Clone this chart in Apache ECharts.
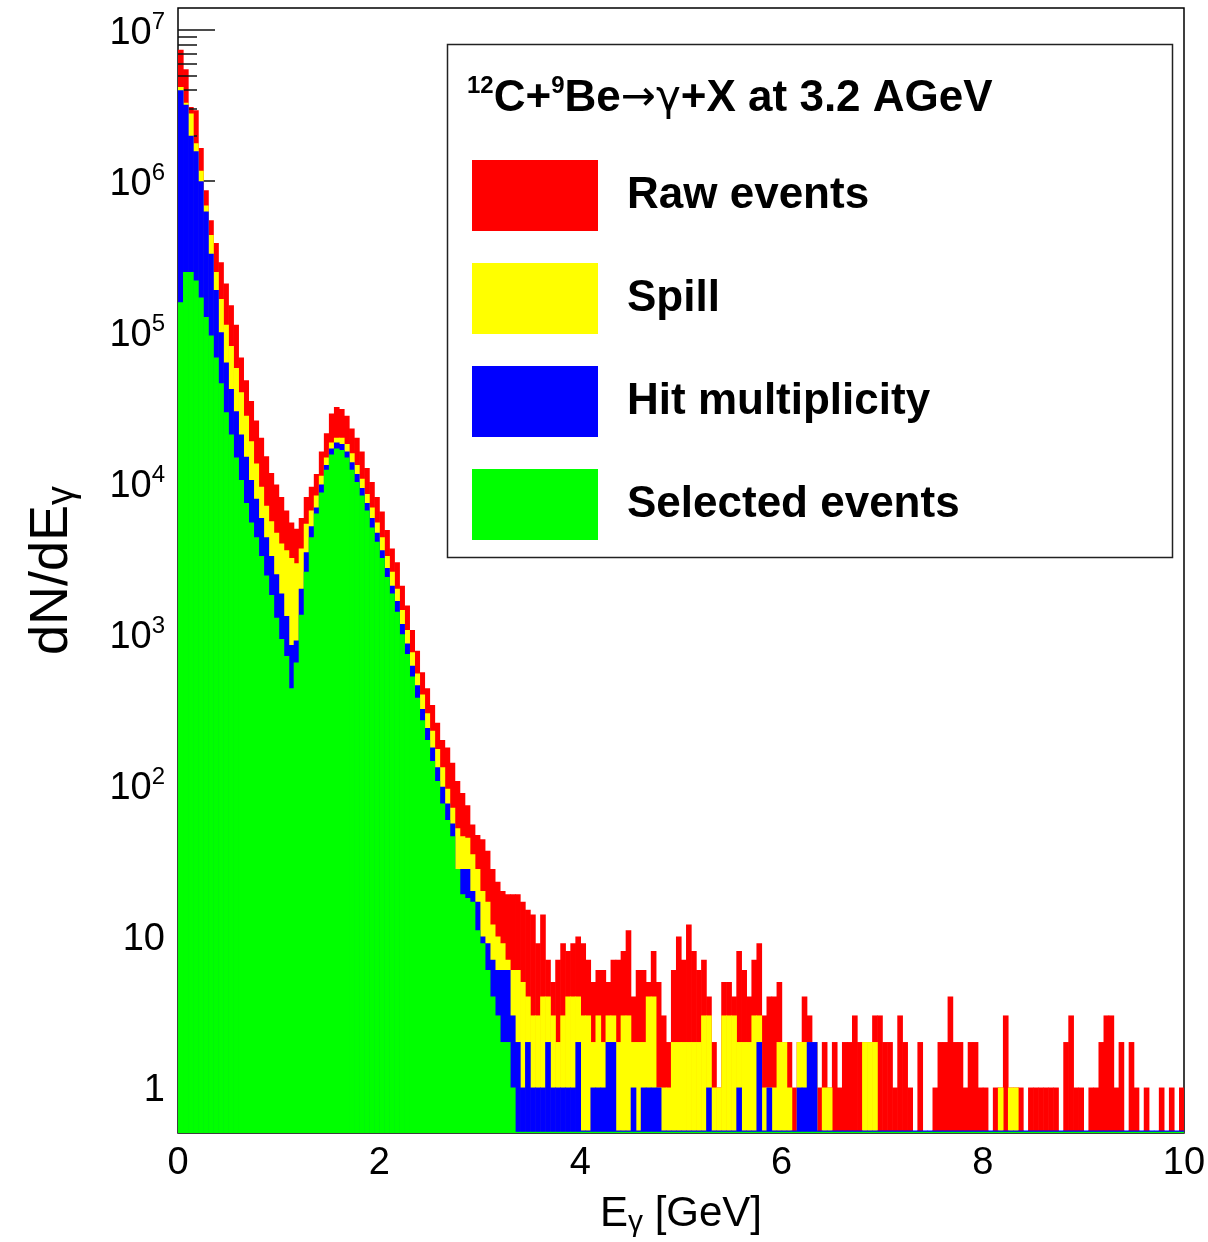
<!DOCTYPE html>
<html>
<head>
<meta charset="utf-8">
<script src="https://cdn.jsdelivr.net/npm/echarts@6/dist/echarts.min.js"></script>
<style>
html,body{margin:0;padding:0;background:#fff}
#chart{width:1208px;height:1242px}
</style>
</head>
<body>
<div id="chart"></div>
<script>
// ---------------- data (0.05 GeV bins, 0 - 10 GeV) ----------------
const BIN_WIDTH = 0.05;
const Y_MIN = 0.5;
const Y_MAX = 1.4e7;

const seriesNames = ['Raw events', 'Spill', 'Hit multiplicity', 'Selected events'];
const seriesColors = ['#ff0000', '#ffff00', '#0000ff', '#00ff00'];

const rawEvents = [
  7.4e6, 5.5e6, 3.1e6, 2.95e6, 1.66e6, 8.7e5, 5.5e5, 3.9e5, 2.9e5, 2.1e5,
  1.51e5, 1.12e5, 6.8e4, 4.8e4, 3.5e4, 2.6e4, 2.0e4, 1.51e4, 1.17e4, 9800,
  8100, 6600, 5500, 5000, 5900, 8100, 9500, 11500, 16200, 21400,
  29000, 32000, 31000, 28000, 23000, 20000, 16200, 12600, 10200, 8100,
  6500, 4900, 3700, 3000, 2100, 1550, 1070, 780, 560, 440,
  340, 260, 200, 178, 141, 107, 89, 74, 55, 47,
  44, 37, 28, 23, 20, 19, 19, 19, 17, 15,
  14, 9, 14, 7, 5, 7, 9, 8, 9, 10,
  9, 7, 5, 6, 6, 5, 7, 7, 8, 11,
  4, 6, 6, 5, 8, 5, 3, 2, 6, 10,
  7, 12, 8, 6, 7, 4, 2, 1, 5, 5,
  4, 8, 6, 4, 7, 9, 3, 4, 4, 5,
  2, 2, 1, 2, 4, 3, 2, 1, 2, 1,
  2, 1, 2, 2, 3, 2, 2, 2, 3, 3,
  2, 2, 1, 3, 2, 1, 0, 2, 0, 0,
  1, 2, 2, 4, 2, 2, 1, 2, 2, 1,
  1, 0, 1, 1, 3, 1, 1, 1, 0, 1,
  1, 1, 1, 1, 1, 0, 2, 3, 1, 1,
  0, 1, 1, 2, 3, 3, 1, 2, 0, 2,
  1, 0, 1, 0, 0, 1, 0, 1, 0, 1
];

const spill = [
  4.2e6, 3.3e6, 2.8e6, 1.78e6, 1.17e6, 6.9e5, 4.4e5, 2.5e5, 1.66e5, 1.12e5,
  8.1e4, 5.8e4, 4.0e4, 2.8e4, 1.9e4, 1.35e4, 9500, 7100, 5600, 4700,
  4000, 3600, 3200, 2950, 3700, 5400, 6600, 8300, 11200, 14800,
  18600, 20000, 20000, 18200, 15800, 13200, 10700, 8500, 6900, 5500,
  4400, 3300, 2600, 2000, 1450, 1070, 760, 550, 400, 300,
  230, 174, 132, 95, 71, 52, 46, 45, 35, 28,
  20, 17, 12, 10, 9, 7, 6, 6, 5, 4,
  3, 3, 4, 4, 3, 2, 3, 4, 4, 4,
  3, 3, 2, 3, 2, 3, 3, 2, 3, 3,
  2, 2, 2, 4, 4, 1, 1, 1, 2, 2,
  2, 2, 2, 2, 3, 3, 1, 1, 3, 3,
  3, 2, 2, 2, 3, 3, 1, 1, 1, 2,
  2, 1, 0, 2, 2, 2, 2, 0, 1, 1,
  0, 0, 0, 0, 0, 0, 2, 2, 2, 0,
  0, 0, 0, 0, 0, 0, 0, 0, 0, 0,
  0, 0, 0, 0, 0, 0, 0, 0, 0, 0,
  0, 0, 0, 1, 0, 1, 1, 0, 0, 0,
  0, 0, 0, 0, 0, 0, 0, 0, 0, 0,
  0, 0, 0, 0, 0, 0, 0, 0, 0, 0,
  0, 0, 0, 0, 0, 0, 0, 0, 0, 0
];

const hitMultiplicity = [
  4.0e6, 3.2e6, 2.0e6, 1.58e6, 1.0e6, 6.3e5, 3.3e5, 1.9e5, 1.0e5, 6.3e4,
  4.2e4, 3.0e4, 2.1e4, 1.5e4, 1.05e4, 7900, 5900, 4400, 3300, 2500,
  1860, 1320, 850, 910, 2000, 3500, 5200, 6900, 9800, 13200,
  17000, 18600, 18200, 16200, 13800, 11500, 9300, 7400, 5900, 4700,
  3600, 2750, 2100, 1660, 1170, 870, 620, 460, 320, 240,
  178, 132, 98, 76, 56, 28, 28, 28, 20, 17,
  10, 9, 7, 6, 6, 6, 3, 2, 1, 2,
  1, 1, 1, 2, 1, 1, 1, 1, 1, 2,
  0, 0, 1, 1, 1, 2, 2, 0, 0, 0,
  1, 0, 1, 1, 1, 1, 0, 0, 0, 0,
  0, 0, 0, 0, 0, 1, 0, 0, 0, 0,
  0, 1, 0, 0, 0, 2, 0, 1, 0, 0,
  0, 0, 0, 1, 1, 2, 2, 0, 0, 0,
  0, 0, 0, 0, 0, 0, 0, 0, 0, 0,
  0, 0, 0, 0, 0, 0, 0, 0, 0, 0,
  0, 0, 0, 0, 0, 0, 0, 0, 0, 0,
  0, 0, 0, 0, 0, 0, 0, 0, 0, 0,
  0, 0, 0, 0, 0, 0, 0, 0, 0, 0,
  0, 0, 0, 0, 0, 0, 0, 0, 0, 0,
  0, 0, 0, 0, 0, 0, 0, 0, 0, 0
];

const selectedEvents = [
  1.58e5, 2.5e5, 2.5e5, 2.2e5, 1.7e5, 1.26e5, 9.5e4, 6.8e4, 4.6e4, 2.95e4,
  2.1e4, 1.48e4, 1.05e4, 7400, 5500, 4400, 3300, 2450, 1820, 1290,
  930, 720, 440, 650, 1350, 2600, 4400, 6300, 8700, 12300,
  15500, 17000, 16600, 14800, 12300, 10200, 8300, 6600, 5100, 4100,
  3200, 2400, 1860, 1410, 1000, 740, 525, 380, 270, 200,
  145, 107, 76, 59, 46, 28, 19, 18, 17, 11,
  9, 6, 4, 3, 2, 2, 1, 0, 0, 0,
  0, 0, 0, 0, 0, 0, 0, 0, 0, 0,
  0, 0, 0, 0, 0, 0, 0, 0, 0, 0,
  0, 0, 0, 0, 0, 0, 0, 0, 0, 0,
  0, 0, 0, 0, 0, 0, 0, 0, 0, 0,
  0, 0, 0, 0, 0, 0, 0, 0, 0, 0,
  0, 0, 0, 0, 0, 0, 0, 0, 0, 0,
  0, 0, 0, 0, 0, 0, 0, 0, 0, 0,
  0, 0, 0, 0, 0, 0, 0, 0, 0, 0,
  0, 0, 0, 0, 0, 0, 0, 0, 0, 0,
  0, 0, 0, 0, 0, 0, 0, 0, 0, 0,
  0, 0, 0, 0, 0, 0, 0, 0, 0, 0,
  0, 0, 0, 0, 0, 0, 0, 0, 0, 0,
  0, 0, 0, 0, 0, 0, 0, 0, 0, 0
];

const xTickValues = [0, 2, 4, 6, 8, 10];
const yMajorTicks = [1, 10, 100, 1000, 10000, 100000, 1000000, 10000000];
const yMinorTicks = [
  2, 3, 4, 5, 6, 7, 8, 9,
  20, 30, 40, 50, 60, 70, 80, 90,
  200, 300, 400, 500, 600, 700, 800, 900,
  2000, 3000, 4000, 5000, 6000, 7000, 8000, 9000,
  20000, 30000, 40000, 50000, 60000, 70000, 80000, 90000,
  200000, 300000, 400000, 500000, 600000, 700000, 800000, 900000,
  2000000, 3000000, 4000000, 5000000, 6000000, 7000000, 8000000, 9000000
];

// ---------------- chart ----------------
const FONT = '"Liberation Sans", Arial, Helvetica, sans-serif';

function histSeries(name, values, color, z, baseThickness) {
  return {
    name: name,
    type: 'custom',
    coordinateSystem: 'cartesian2d',
    xAxisIndex: 0,
    yAxisIndex: 0,
    z: z,
    clip: true,
    itemStyle: { color: color },
    encode: { x: [0, 1], y: 2 },
    data: values.map((v, i) => [i * BIN_WIDTH, (i + 1) * BIN_WIDTH, v]),
    renderItem: function (params, api) {
      const x0 = api.value(0), x1 = api.value(1), v = api.value(2);
      const base = api.coord([x0, Y_MIN]);
      const right = api.coord([x1, Y_MIN]);
      const w = right[0] - base[0] + 0.6;
      if (v > 0) {
        const top = api.coord([x0, v]);
        return {
          type: 'rect',
          shape: { x: base[0], y: top[1], width: w, height: base[1] - top[1] },
          style: { fill: color }
        };
      }
      if (baseThickness > 0) {
        return {
          type: 'rect',
          shape: { x: base[0], y: base[1] - baseThickness, width: w, height: baseThickness },
          style: { fill: color }
        };
      }
      return null;
    }
  };
}

function yLabel(v) {
  const e = Math.round(Math.log10(v));
  if (Math.abs(v - Math.pow(10, e)) > 1e-6 * Math.pow(10, e)) return '';
  if (e === 0) return '{b|1}';
  if (e === 1) return '{b|10}';
  return '{b|10}{s|' + e + '}';
}

const chart = echarts.init(document.getElementById('chart'), null, { renderer: 'canvas' });

const option = {
  animation: false,
  backgroundColor: '#ffffff',
  textStyle: { fontFamily: FONT },
  grid: {
    left: 178, right: 24, top: 8, bottom: 109,
    show: true, borderColor: '#000', borderWidth: 1.5, backgroundColor: 'transparent',
    containLabel: false, outerBoundsMode: 'none'
  },
  title: {
    text: '{s|12}{b|C+}{s|9}{b|Be}{a|→γ}{b|+X at 3.2 AGeV}',
    left: 462, top: 69,
    textStyle: {
      rich: {
        b: { fontSize: 44, fontWeight: 'bold', color: '#000', lineHeight: 50, fontFamily: FONT },
        a: { fontSize: 42, fontWeight: 'normal', color: '#000', lineHeight: 50, fontFamily: '"DejaVu Sans", ' + FONT },
        s: { fontSize: 24, fontWeight: 'bold', color: '#000', lineHeight: 20, verticalAlign: 'top', fontFamily: FONT }
      }
    }
  },
  legend: {
    orient: 'vertical',
    left: 472, top: 160,
    padding: 0,
    itemWidth: 126, itemHeight: 71, itemGap: 32,
    icon: 'rect',
    selectedMode: false,
    data: seriesNames,
    textStyle: { fontSize: 44, fontWeight: 'bold', color: '#000', fontFamily: FONT, padding: [0, 0, 0, 24] }
  },
  graphic: [{
    type: 'rect',
    left: 445, top: 42,
    shape: { width: 725, height: 513 },
    style: { fill: 'none', stroke: '#222', lineWidth: 1.5 },
    z: 1
  }],
  xAxis: {
    type: 'value', min: 0, max: 10, interval: 2,
    axisLine: { show: false },
    axisTick: { show: false },
    splitLine: { show: false },
    axisLabel: { fontSize: 38, color: '#000', margin: 12, fontFamily: FONT, customValues: xTickValues },
    name: '{b|E}{sub|γ}{b| [GeV]}',
    nameLocation: 'middle',
    nameGap: 57,
    nameTextStyle: {
      rich: {
        b: { fontSize: 42, color: '#000', lineHeight: 48, fontFamily: FONT },
        sub: { fontSize: 30, color: '#000', lineHeight: 22, verticalAlign: 'bottom', fontFamily: FONT }
      }
    }
  },
  yAxis: [{
    type: 'log', min: Y_MIN, max: Y_MAX, logBase: 10,
    position: 'left', z: 3,
    axisLine: { show: false },
    splitLine: { show: false },
    axisTick: { show: true, inside: true, length: 37, customValues: yMajorTicks, lineStyle: { color: '#111', width: 1.5 } },
    axisLabel: {
      margin: 13, customValues: yMajorTicks, padding: [6, 0, 0, 0],
      formatter: yLabel,
      rich: {
        b: { fontSize: 38, color: '#000', lineHeight: 46, fontFamily: FONT },
        s: { fontSize: 24, color: '#000', lineHeight: 20, verticalAlign: 'top', fontFamily: FONT }
      }
    },
    name: '{b|dN/dE}{sub|γ}',
    nameLocation: 'middle',
    nameRotate: 90,
    nameGap: 96,
    nameTextStyle: {
      rich: {
        b: { fontSize: 54, color: '#000', lineHeight: 60, fontFamily: FONT },
        sub: { fontSize: 38, color: '#000', lineHeight: 26, verticalAlign: 'bottom', fontFamily: FONT }
      }
    }
  }, {
    type: 'log', min: Y_MIN, max: Y_MAX, logBase: 10,
    position: 'left', offset: 0, z: 3,
    axisLine: { show: false },
    splitLine: { show: false },
    axisLabel: { show: false },
    axisTick: { show: true, inside: true, length: 19, customValues: yMinorTicks, lineStyle: { color: '#111', width: 1.5 } }
  }],
  series: [
    histSeries(seriesNames[0], rawEvents, seriesColors[0], 2, 0),
    histSeries(seriesNames[1], spill, seriesColors[1], 4, 0),
    histSeries(seriesNames[2], hitMultiplicity, seriesColors[2], 5, 2.5),
    histSeries(seriesNames[3], selectedEvents, seriesColors[3], 6, 1.2)
  ]
};

chart.setOption(option);
</script>
</body>
</html>
